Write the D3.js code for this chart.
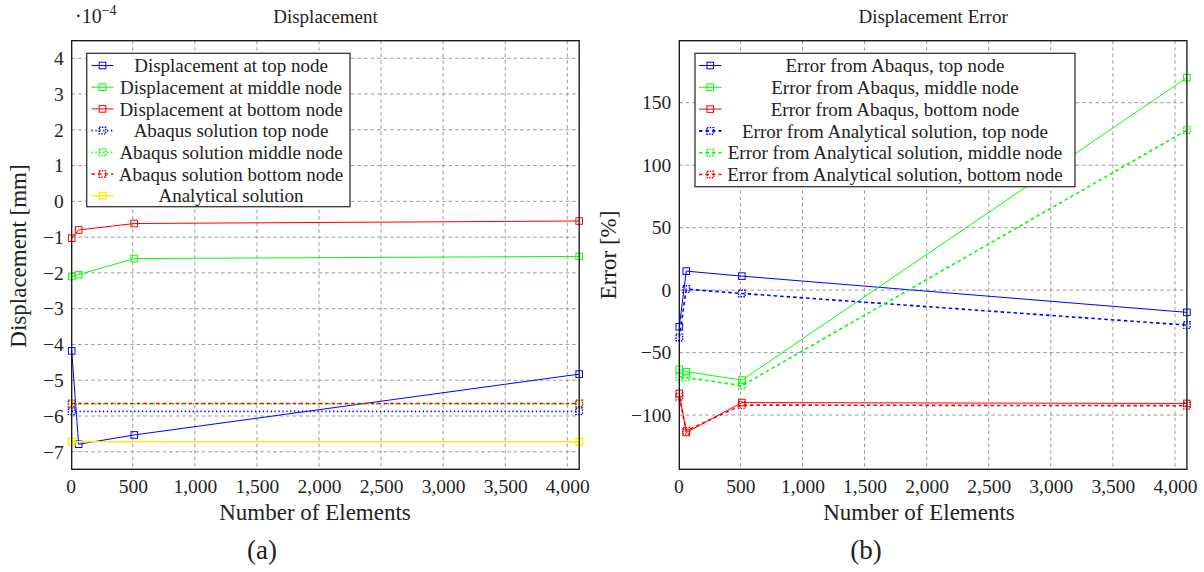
<!DOCTYPE html>
<html>
<head>
<meta charset="utf-8">
<script src="https://cdn.jsdelivr.net/npm/d3@7"></script>
<style>
  html, body { margin: 0; padding: 0; background: #fff; }
  svg text { font-family: "Liberation Serif", "DejaVu Serif", serif; fill: #222; }
</style>
</head>
<body>
<svg id="chart" width="1204" height="572"></svg>
<script>
// ---------------- DATA ----------------
const elements = [8, 64, 512, 4096];
const elementsRef = [8, 4096];
const xTicks = [0, 500, 1000, 1500, 2000, 2500, 3000, 3500, 4000];

// Panel (a): displacement ×10^-4 mm
const dispTop = [-4.18, -6.79, -6.53, -4.83];
const dispMiddle = [-2.10, -2.05, -1.60, -1.54];
const dispBottom = [-1.03, -0.80, -0.62, -0.55];
const abaqusTop = [-5.87, -5.87];
const abaqusMiddle = [-5.66, -5.66];
const abaqusBottom = [-5.65, -5.65];
const analytical = [-6.72, -6.72];
const dispTicks = [-7, -6, -5, -4, -3, -2, -1, 0, 1, 2, 3, 4];
const dispLabels = ["Displacement at top node", "Displacement at middle node", "Displacement at bottom node",
  "Abaqus solution top node", "Abaqus solution middle node", "Abaqus solution bottom node", "Analytical solution"];

// Panel (b): error %
const errAbaqusTop = [-29.3, 15.2, 11.2, -17.8];
const errAbaqusMiddle = [-63.5, -65.3, -72.0, 170.0];
const errAbaqusBottom = [-82.7, -113.9, -90.0, -90.7];
const errAnalyticTop = [-37.9, 0.8, -2.7, -28.0];
const errAnalyticMiddle = [-69.3, -70.0, -76.5, 128.0];
const errAnalyticBottom = [-85.3, -112.5, -92.0, -92.5];
const errTicks = [-100, -50, 0, 50, 100, 150];
const errLabels = ["Error from Abaqus, top node", "Error from Abaqus, middle node", "Error from Abaqus, bottom node",
  "Error from Analytical solution, top node", "Error from Analytical solution, middle node", "Error from Analytical solution, bottom node"];

// ---------------- STYLES ----------------
const BLUE = "#0000ff", GREEN = "#00ff00", RED = "#ff0000", YELLOW = "#ffee00";
const solid = { dash: null, width: 1 };
const dotted = { dash: "1.3,2.6", width: 1.7 };
const dashed = { dash: "3.5,3", width: 1.6 };

const svg = d3.select("#chart");
const TICKFONT = 19.5, LEGFONT = 19, TITLEFONT = 19, LABELFONT = 23;

function drawPanel(cfg) {
  const x = d3.scaleLinear().domain([8, 4096]).range([cfg.left, cfg.right]);
  const y = d3.scaleLinear().domain(cfg.yDomain).range([cfg.bottom, cfg.top]);
  const g = svg.append("g");

  // grid
  g.append("g").selectAll("line").data(xTicks.filter(d => d > 0)).join("line")
    .attr("x1", d => x(d)).attr("x2", d => x(d)).attr("y1", cfg.top).attr("y2", cfg.bottom)
    .attr("stroke", "#999").attr("stroke-width", 1).attr("stroke-dasharray", "3.5,3");
  g.append("g").selectAll("line").data(cfg.yTicks).join("line")
    .attr("x1", cfg.left).attr("x2", cfg.right).attr("y1", d => y(d)).attr("y2", d => y(d))
    .attr("stroke", "#999").attr("stroke-width", 1).attr("stroke-dasharray", "3.5,3");

  // axes (labels only, box drawn separately)
  const xAxis = d3.axisBottom(x).tickValues(xTicks).tickFormat(d3.format(",")).tickSize(0).tickPadding(10);
  const xa = g.append("g").attr("transform", `translate(0,${cfg.bottom})`).call(xAxis);
  xa.select(".domain").remove();
  xa.selectAll("text").attr("font-size", TICKFONT).style("font-family", "Liberation Serif").attr("fill", "#222");

  const yAxis = d3.axisLeft(y).tickValues(cfg.yTicks).tickFormat(d3.format("d")).tickSize(0).tickPadding(8);
  const ya = g.append("g").attr("transform", `translate(${cfg.left},0)`).call(yAxis);
  ya.select(".domain").remove();
  ya.selectAll("text").attr("font-size", TICKFONT).style("font-family", "Liberation Serif").attr("fill", "#222");

  // series
  const line = d3.line().x(d => x(d[0])).y(d => y(d[1]));
  const ms = 6.6;
  cfg.series.forEach(s => {
    const pts = s.xs.map((xv, i) => [xv, s.values[i]]);
    g.append("path").datum(pts).attr("d", line).attr("fill", "none")
      .attr("stroke", s.color).attr("stroke-width", s.style.width)
      .attr("stroke-dasharray", s.style.dash);
    g.append("g").selectAll("rect").data(pts).join("rect")
      .attr("x", d => x(d[0]) - ms / 2).attr("y", d => y(d[1]) - ms / 2)
      .attr("width", ms).attr("height", ms).attr("fill", "none")
      .attr("stroke", s.color).attr("stroke-width", s.style.width > 1 ? 1.4 : 1)
      .attr("stroke-dasharray", s.style.dash ? "1.5,1.2" : null);
  });

  // box
  g.append("rect").attr("x", cfg.left).attr("y", cfg.top)
    .attr("width", cfg.right - cfg.left).attr("height", cfg.bottom - cfg.top)
    .attr("fill", "none").attr("stroke", "#111").attr("stroke-width", 1.3);

  // legend
  const L = cfg.legend;
  const lg = g.append("g");
  lg.append("rect").attr("x", L.x0).attr("y", L.y0).attr("width", L.x1 - L.x0).attr("height", L.y1 - L.y0)
    .attr("fill", "#fff").attr("stroke", "#333").attr("stroke-width", 1.3);
  cfg.series.forEach((s, i) => {
    const cy = L.firstRow + i * L.rowH;
    lg.append("line").attr("x1", L.sx0).attr("x2", L.sx1).attr("y1", cy).attr("y2", cy)
      .attr("stroke", s.color).attr("stroke-width", s.style.width).attr("stroke-dasharray", s.style.dash);
    const mx = (L.sx0 + L.sx1) / 2;
    lg.append("rect").attr("x", mx - 3.3).attr("y", cy - 3.3).attr("width", 6.6).attr("height", 6.6)
      .attr("fill", "none").attr("stroke", s.color).attr("stroke-width", s.style.width > 1 ? 1.4 : 1)
      .attr("stroke-dasharray", s.style.dash ? "1.5,1.2" : null);
    lg.append("text").attr("x", L.textX).attr("y", cy).attr("dy", "0.35em")
      .attr("text-anchor", "middle").attr("font-size", LEGFONT).text(s.label);
  });

  // titles / labels
  g.append("text").attr("x", (cfg.left + cfg.right) / 2).attr("y", 23)
    .attr("text-anchor", "middle").attr("font-size", TITLEFONT).text(cfg.title);
  g.append("text").attr("x", cfg.xLabelX).attr("y", 520)
    .attr("text-anchor", "middle").attr("font-size", LABELFONT).text("Number of Elements");
  g.append("text").attr("transform", `translate(${cfg.yLabelX},${cfg.yLabelY}) rotate(-90)`)
    .attr("text-anchor", "middle").attr("dy", "0.35em").attr("font-size", LABELFONT).text(cfg.yLabel);
  g.append("text").attr("x", cfg.capX).attr("y", 559)
    .attr("text-anchor", "middle").attr("font-size", 27).text(cfg.caption);
}

drawPanel({
  left: 71.7, right: 579.2, top: 40.7, bottom: 469.3,
  yDomain: [-7.49, 4.49], yTicks: dispTicks,
  title: "Displacement", yLabel: "Displacement [mm]", yLabelX: 18, yLabelY: 256,
  xLabelX: 315, capX: 262, caption: "(a)",
  legend: { x0: 86.7, x1: 350, y0: 53.3, y1: 206.7, firstRow: 65.5, rowH: 21.7, sx0: 91.5, sx1: 113.5, textX: 231 },
  series: [
    { label: dispLabels[0], xs: elements, values: dispTop, color: BLUE, style: solid },
    { label: dispLabels[1], xs: elements, values: dispMiddle, color: GREEN, style: solid },
    { label: dispLabels[2], xs: elements, values: dispBottom, color: RED, style: solid },
    { label: dispLabels[3], xs: elementsRef, values: abaqusTop, color: BLUE, style: dotted },
    { label: dispLabels[4], xs: elementsRef, values: abaqusMiddle, color: GREEN, style: dotted },
    { label: dispLabels[5], xs: elementsRef, values: abaqusBottom, color: RED, style: dashed },
    { label: dispLabels[6], xs: elementsRef, values: analytical, color: YELLOW, style: { dash: null, width: 1.4 } }
  ]
});

// ·10^-4 multiplier
const mult = svg.append("text").attr("x", 75).attr("y", 23).attr("font-size", 20);
mult.append("tspan").text("·10");
mult.append("tspan").attr("dy", -8).attr("font-size", 14).text("−4");

drawPanel({
  left: 679.3, right: 1186.9, top: 40.7, bottom: 469.3,
  yDomain: [-143.4, 199.6], yTicks: errTicks,
  title: "Displacement Error", yLabel: "Error [%]", yLabelX: 607.5, yLabelY: 255,
  xLabelX: 919, capX: 866, caption: "(b)",
  legend: { x0: 695, x1: 1075, y0: 53.3, y1: 186.7, firstRow: 65.5, rowH: 21.8, sx0: 699, sx1: 721.5, textX: 895 },
  series: [
    { label: errLabels[0], xs: elements, values: errAbaqusTop, color: BLUE, style: solid },
    { label: errLabels[1], xs: elements, values: errAbaqusMiddle, color: GREEN, style: solid },
    { label: errLabels[2], xs: elements, values: errAbaqusBottom, color: RED, style: solid },
    { label: errLabels[3], xs: elements, values: errAnalyticTop, color: BLUE, style: dashed },
    { label: errLabels[4], xs: elements, values: errAnalyticMiddle, color: GREEN, style: dashed },
    { label: errLabels[5], xs: elements, values: errAnalyticBottom, color: RED, style: dashed }
  ]
});
</script>
</body>
</html>
